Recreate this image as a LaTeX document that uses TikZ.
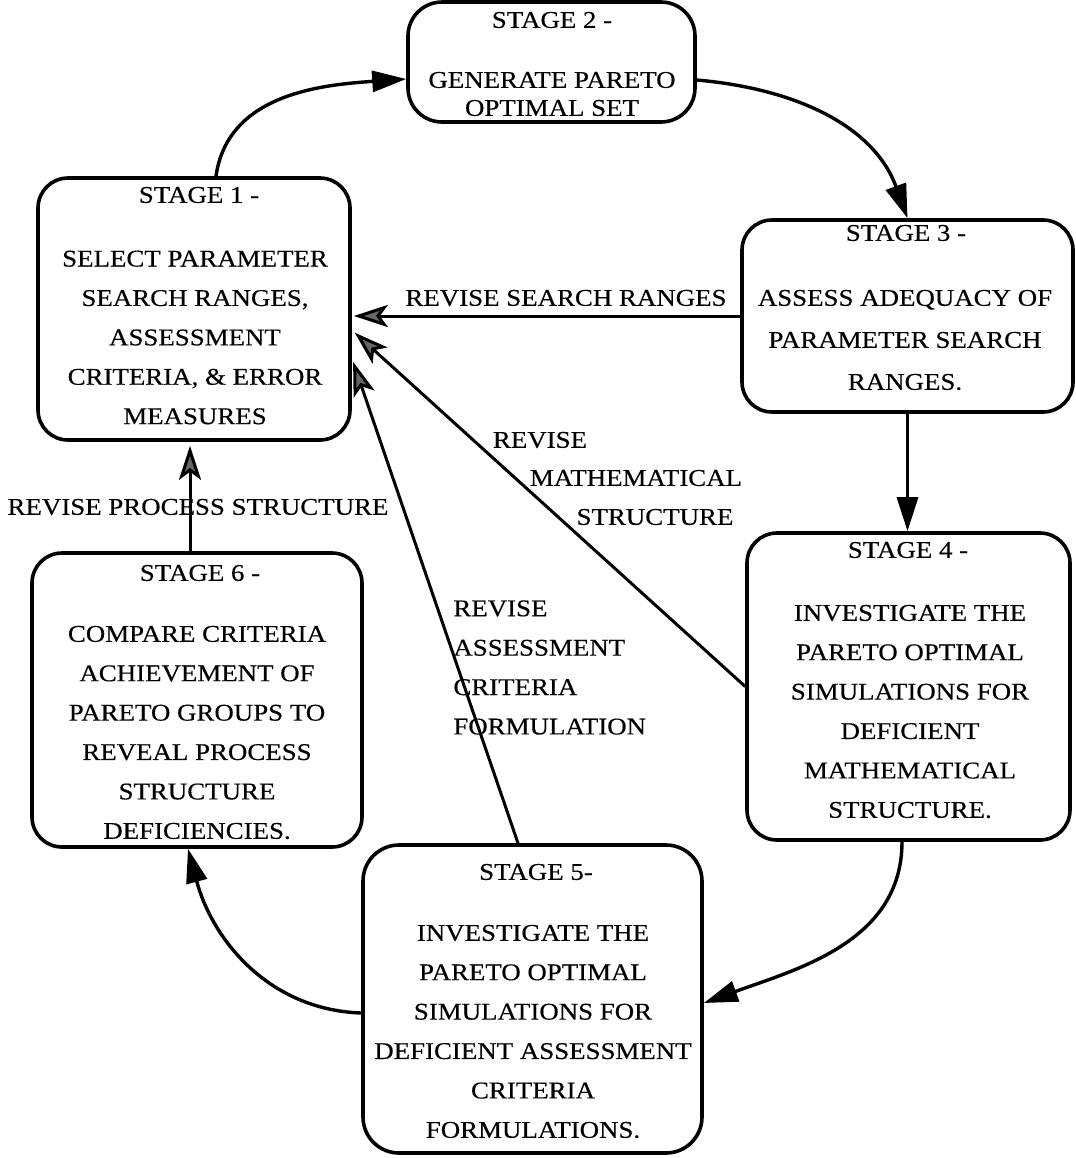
\documentclass[tikz,border=0pt]{standalone}
\usepackage{fontspec}
\setmainfont{Liberation Serif}[FakeStretch=1.12, FakeBold=0.4]
\usetikzlibrary{arrows.meta}
\begin{document}
\begin{tikzpicture}[x=0.5pt,y=-0.5pt,
  stagebox/.style={draw, line width=1.8pt, rounded corners=15pt, inner sep=0pt},
  txt/.style={font=\fontsize{12}{19.7}\selectfont, align=center, inner sep=0pt},
  flow/.style={line width=1.7pt, -{Triangle[length=17pt,width=10.5pt]}},
  fb/.style={line width=1.5pt, -{Stealth[length=17pt,width=11pt,inset=4pt,fill=black!60]}}
]
\useasboundingbox (0,0) rectangle (1076,1158);

% boxes
\node[stagebox, minimum width=156pt, minimum height=131pt] (s1) at (194,309) {};
\node[stagebox, minimum width=143.5pt, minimum height=60pt, rounded corners=17pt] (s2) at (551.5,62) {};
\node[stagebox, minimum width=165.5pt, minimum height=96pt] (s3) at (907.5,316) {};
\node[stagebox, minimum width=161.5pt, minimum height=153.5pt] (s4) at (908.5,686.5) {};
\node[stagebox, minimum width=165pt, minimum height=147pt] (s6) at (197,700) {};
\node[stagebox, minimum width=169.5pt, minimum height=154pt, rounded corners=18pt] (s5) at (532.5,999) {};

% box texts
\node[txt] (t1) at (199,195) {STAGE 1 -};
\node[txt] (b1) at (195,337.5) {SELECT PARAMETER\\SEARCH RANGES,\\ASSESSMENT\\CRITERIA, \& ERROR\\MEASURES};
\node[txt] (t2) at (552,20) {STAGE 2 -};
\node[txt, font=\fontsize{12}{14}\selectfont] (b2) at (552,94) {GENERATE PARETO\\OPTIMAL SET};
\node[txt] (t3) at (906,233) {STAGE 3 -};
\node[txt, font=\fontsize{12}{21}\selectfont] (b3) at (905,340) {ASSESS ADEQUACY OF\\PARAMETER SEARCH\\RANGES.};
\node[txt] (t4) at (908,550) {STAGE 4 -};
\node[txt] (b4) at (910,711.5) {INVESTIGATE THE\\PARETO OPTIMAL\\SIMULATIONS FOR\\DEFICIENT\\MATHEMATICAL\\STRUCTURE.};
\node[txt] (t6) at (200,573) {STAGE 6 -};
\node[txt] (b6) at (197,732.5) {COMPARE CRITERIA\\ACHIEVEMENT OF\\PARETO GROUPS TO\\REVEAL PROCESS\\STRUCTURE\\DEFICIENCIES.};
\node[txt] (t5) at (536,872) {STAGE 5-};
\node[txt] (b5) at (533,1031.5) {INVESTIGATE THE\\PARETO OPTIMAL\\SIMULATIONS FOR\\DEFICIENT ASSESSMENT\\CRITERIA\\FORMULATIONS.};

% main cycle
\draw[flow] ([xshift=11pt]s1.north) to[out=82, in=184] ([yshift=-8.5pt]s2.west);
\draw[flow] ([yshift=-9pt]s2.east) to[out=-5, in=110] (s3.north);
\draw[flow] (s3.south) -- (s3.south |- s4.north);
\draw[flow] ([xshift=-3.25pt]s4.south) to[out=-90, in=20] ([yshift=-2pt]s5.east);
\draw[flow] ([yshift=-7pt]s5.west) to[out=178, in=-75] ([xshift=-4.5pt]s6.south);

% feedback arrows
\draw[fb, shorten >=1pt] (s3.west) -- (s3.west -| s1.east);
\draw[fb, shorten >=2pt] (s4.west) -- ([yshift=-10.5pt]s1.east);
\draw[fb, shorten >=2pt] ([xshift=-7.25pt]s5.north) -- ([yshift=-24.5pt]s1.east);
\draw[fb, shorten >=2pt] ([xshift=-3.5pt]s6.north) -- ([xshift=-2pt]s1.south);

% labels
\node[txt] (l1) at (566,298) {REVISE SEARCH RANGES};
\node[txt] (l2) at (198,507) {REVISE PROCESS STRUCTURE};
\node[txt] (l3a) at (540,440) {REVISE};
\node[txt] (l3b) at (636,478) {MATHEMATICAL};
\node[txt] (l3c) at (655,517) {STRUCTURE};
\node[txt, align=left, anchor=west] (l4) at (453,667.5) {REVISE\\ASSESSMENT\\CRITERIA\\FORMULATION};
\end{tikzpicture}
\end{document}
